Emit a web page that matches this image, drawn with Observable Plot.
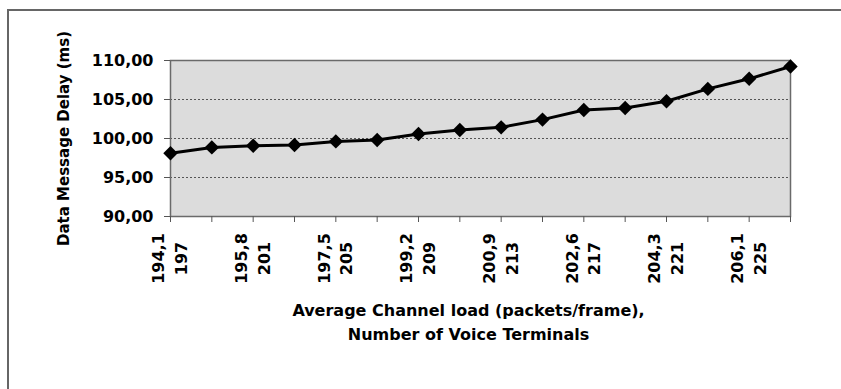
<!DOCTYPE html>
<html><head><meta charset="utf-8">
<script src="https://cdn.jsdelivr.net/npm/d3@7"></script>
<script src="https://cdn.jsdelivr.net/npm/@observablehq/plot@0.6"></script>
<style>
body{margin:0;background:#fff;}
#wrap{position:relative;width:841px;height:389px;overflow:hidden;}
#border{position:absolute;left:7px;top:9px;width:850px;height:400px;border-left:2px solid #666;border-top:2px solid #666;}
#chart{position:absolute;left:0;top:0;}
</style></head><body>
<div id="wrap"><div id="border"></div><div id="chart"></div></div>
<script>
// Number of voice terminals (x positions) and data message delay (ms)
const terminals = [197,199,201,203,205,207,209,211,213,215,217,219,221,223,225,227];
const delay = [98.1,98.86,99.07,99.16,99.63,99.8,100.58,101.1,101.43,102.42,103.66,103.92,104.77,106.36,107.65,109.23];
// Tick labels (shown on every other category)
const tickTerminals = [197,201,205,209,213,217,221,225];
const tickLoad = ["194,1","195,8","197,5","199,2","200,9","202,6","204,3","206,1"];
const yTicks = [90,95,100,105,110];
const yGrid = [95,100,105];
const xTitle = "Average Channel load (packets/frame),\nNumber of Voice Terminals";
const yTitle = "Data Message Delay (ms)";

const data = terminals.map((t,i)=>({t, d: delay[i]}));
const labels = tickTerminals.map((t,i)=>({t, s: tickLoad[i] + "\n" + t}));

const chart = Plot.plot({
  width: 841, height: 389,
  marginLeft: 170, marginRight: 51, marginTop: 60, marginBottom: 173,
  style: {fontFamily: "DejaVu Sans", fontWeight: "bold", fontSize: "16px", color: "#000", background: "transparent"},
  x: {type: "linear", domain: [197, 227], axis: null},
  y: {domain: [90, 110], axis: null},
  marks: [
    Plot.frame({fill: "#dcdcdc", stroke: null}),
    Plot.gridY(yGrid, {stroke: "#555", strokeOpacity: 1, strokeDasharray: "2,2"}),
    Plot.frame({stroke: "#6a6a6a", strokeWidth: 1.5}),
    Plot.axisY({ticks: yTicks, tickSize: 6, tickPadding: 11, stroke: "#555", tickFormat: d => d.toFixed(2).replace(".", ","), label: null, fontSize: 16}),
    Plot.axisX({ticks: terminals, tickSize: 6, stroke: "#555", tickFormat: () => "", label: null}),
    Plot.text(labels, {x: "t", text: "s", frameAnchor: "bottom", dy: 42, dx: -2, rotate: -90, textAnchor: "middle", lineAnchor: "middle", lineHeight: 1.4, fontSize: 16}),
    Plot.text([yTitle], {frameAnchor: "left", dx: -106, rotate: -90, textAnchor: "middle", lineAnchor: "middle", fontSize: 15}),
    Plot.text([xTitle], {frameAnchor: "bottom", dx: -12, dy: 104, textAnchor: "middle", lineAnchor: "middle", lineHeight: 1.5, fontSize: 16}),
    Plot.line(data, {x: "t", y: "d", stroke: "#000", strokeWidth: 3}),
    Plot.dot(data, {x: "t", y: "d", symbol: "diamond2", r: 6.5, fill: "#000", stroke: null})
  ]
});
document.getElementById("chart").append(chart);
</script>
</body></html>
